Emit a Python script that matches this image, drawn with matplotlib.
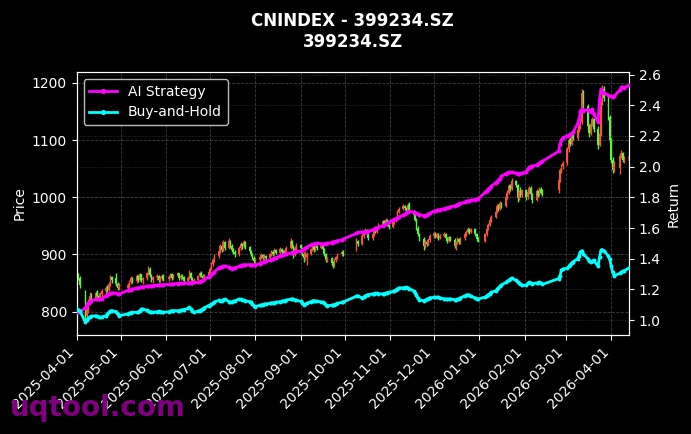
import numpy as np
import pandas as pd
import matplotlib
matplotlib.use("Agg")
import matplotlib.pyplot as plt
import matplotlib.dates as mdates

# -----------------------------
# Data
# -----------------------------
TITLE = "CNINDEX - 399234.SZ\n399234.SZ"

# SZ market holidays inside the window
HOLIDAYS = [
    "2025-04-04", "2025-05-01", "2025-05-02", "2025-05-05", "2025-06-02",
    "2025-10-01", "2025-10-02", "2025-10-03", "2025-10-06", "2025-10-07", "2025-10-08",
    "2026-01-01", "2026-01-02",
    "2026-02-16", "2026-02-17", "2026-02-18", "2026-02-19", "2026-02-20", "2026-02-23",
    "2026-04-06",
]

# one row per month: Apr-25 .. Apr-26
opens = [
    852, 866, 858, 835, 792, 806, 818, 828, 820, 832, 828, 824, 830, 836, 842, 838, 848, 860, 858, 848, 842,
    842, 847, 852, 858, 853, 862, 856, 865, 855, 858, 868, 875, 864, 856, 860, 862, 855, 859, 863,
    857, 861, 865, 859, 862, 867, 858, 863, 860, 854, 859, 868, 858, 850, 855, 862, 868, 863, 858, 862,
    869, 875, 883, 890, 897, 906, 915, 908, 921, 911, 923, 915, 907, 904, 900, 911, 918, 914, 921, 913, 906, 900, 894,
    888, 891, 895, 899, 893, 897, 894, 900, 905, 901, 908, 903, 910, 905, 902, 907, 912, 924, 915, 899, 911,
    917, 911, 901, 893, 895, 901, 909, 914, 908, 915, 911, 916, 910, 900, 890, 893, 885, 880, 890, 895, 900, 905,
    908, 924, 918, 932, 938, 943, 935, 928, 935, 945, 940, 947, 952, 958, 953, 960, 952,
    948, 956, 961, 963, 975, 980, 985, 981, 977, 986, 975, 969, 961, 946, 935, 927, 914, 922, 918, 925,
    932, 937, 931, 935, 929, 933, 936, 929, 923, 930, 926, 914, 921, 927, 921, 928, 935, 940, 945, 939, 944, 936, 927,
    924, 935, 945, 952, 960, 966, 975, 985, 980, 990, 985, 1000, 1008, 1020, 1015, 1028, 1022, 998, 1009, 1004,
    1012, 1000, 1009, 1017, 1005, 996, 1011, 1004, 1015, 1008, 1012, 1030, 1048, 1055,
    1060, 1084, 1100, 1094, 1108, 1104, 1118, 1125, 1131, 1182, 1160, 1125, 1112, 1128, 1136, 1120, 1092, 1110, 1166, 1190, 1174, 1140,
    1100, 1066, 1048, 1052, 1072, 1078, 1065, 1068,
]
highs = [
    870, 868, 862, 838, 812, 822, 834, 832, 836, 838, 832, 834, 840, 845, 846, 852, 864, 862, 868, 852, 850,
    850, 856, 862, 860, 866, 864, 868, 866, 860, 870, 879, 878, 866, 862, 866, 864, 862, 866, 865,
    864, 868, 867, 865, 870, 868, 866, 865, 862, 862, 873, 870, 860, 858, 864, 870, 871, 865, 866, 872,
    878, 886, 893, 900, 910, 918, 917, 926, 923, 929, 925, 918, 912, 908, 914, 922, 920, 925, 923, 915, 908, 903, 897,
    894, 898, 902, 901, 900, 899, 903, 908, 907, 911, 910, 913, 912, 907, 910, 915, 929, 926, 917, 914, 920,
    919, 913, 904, 906, 905, 912, 917, 916, 918, 917, 919, 918, 912, 902, 896, 895, 888, 893, 898, 903, 908, 907,
    928, 926, 935, 941, 946, 945, 937, 938, 948, 947, 950, 955, 961, 960, 963, 962, 954,
    958, 964, 966, 978, 983, 988, 987, 983, 990, 992, 978, 971, 963, 949, 937, 930, 925, 924, 928, 935,
    940, 939, 938, 937, 936, 939, 938, 931, 933, 932, 928, 924, 930, 929, 931, 938, 942, 948, 947, 946, 946, 938, 930,
    938, 947, 955, 962, 969, 978, 988, 988, 993, 992, 1004, 1013, 1024, 1023, 1034, 1031, 1024, 1012, 1018, 1015,
    1014, 1012, 1020, 1019, 1008, 1014, 1013, 1018, 1018, 1014, 1035, 1052, 1058, 1063,
    1088, 1104, 1106, 1112, 1111, 1122, 1129, 1135, 1190, 1188, 1163, 1128, 1132, 1140, 1139, 1124, 1115, 1172, 1197, 1194, 1177, 1143,
    1104, 1070, 1064, 1078, 1082, 1080, 1072, 1075,
]
lows = [
    848, 855, 842, 780, 785, 798, 812, 815, 818, 825, 818, 822, 826, 830, 834, 836, 845, 850, 845, 838, 838,
    835, 842, 848, 850, 850, 852, 854, 852, 848, 856, 864, 860, 852, 850, 856, 852, 852, 856, 854,
    854, 858, 856, 857, 860, 856, 856, 857, 850, 852, 857, 856, 846, 848, 853, 860, 860, 855, 856, 860,
    866, 872, 880, 886, 894, 903, 904, 906, 908, 909, 912, 904, 900, 896, 898, 908, 910, 912, 910, 904, 898, 891, 885,
    884, 888, 892, 890, 890, 890, 892, 898, 898, 899, 900, 901, 902, 898, 900, 905, 910, 912, 893, 897, 908,
    908, 898, 887, 890, 882, 899, 906, 905, 906, 908, 909, 907, 898, 887, 886, 882, 876, 878, 887, 892, 897, 898,
    906, 914, 916, 929, 935, 932, 925, 926, 933, 937, 938, 944, 950, 950, 951, 950, 944,
    946, 953, 957, 961, 972, 977, 978, 974, 975, 972, 966, 958, 943, 932, 924, 908, 912, 915, 916, 922,
    929, 928, 928, 926, 927, 930, 926, 920, 921, 923, 912, 908, 918, 918, 919, 926, 932, 937, 936, 937, 933, 924, 921,
    922, 933, 942, 949, 957, 963, 972, 976, 978, 982, 983, 997, 1005, 1011, 1012, 1018, 992, 995, 1000, 1001,
    996, 997, 1006, 1002, 990, 994, 1000, 1002, 1005, 1002, 1008, 1027, 1042, 1050,
    1057, 1080, 1090, 1091, 1100, 1101, 1114, 1120, 1128, 1155, 1120, 1106, 1109, 1124, 1115, 1084, 1089, 1108, 1162, 1168, 1135, 1095,
    1060, 1042, 1045, 1040, 1068, 1062, 1060, 1064,
]
closes = [
    866, 858, 846, 792, 806, 818, 828, 820, 832, 828, 824, 830, 836, 842, 838, 848, 860, 855, 848, 842, 846,
    847, 852, 858, 853, 862, 856, 865, 855, 858, 868, 875, 864, 856, 860, 862, 855, 859, 863, 857,
    861, 865, 859, 862, 867, 858, 863, 860, 854, 859, 868, 858, 850, 855, 862, 868, 863, 858, 862, 869,
    875, 883, 890, 897, 906, 915, 908, 921, 911, 923, 915, 907, 904, 900, 911, 918, 914, 921, 913, 906, 900, 894, 888,
    891, 895, 899, 893, 897, 894, 900, 905, 901, 908, 903, 910, 905, 902, 907, 912, 924, 915, 899, 911, 917,
    911, 901, 893, 903, 901, 909, 914, 908, 915, 911, 916, 910, 900, 890, 893, 885, 880, 890, 895, 900, 905, 901,
    924, 918, 932, 938, 943, 935, 928, 935, 945, 940, 947, 952, 958, 953, 960, 952, 948,
    956, 961, 963, 975, 980, 985, 981, 977, 986, 975, 969, 961, 946, 935, 927, 914, 922, 918, 925, 932,
    937, 931, 935, 929, 933, 936, 929, 923, 930, 926, 914, 921, 927, 921, 928, 935, 940, 945, 939, 944, 936, 927, 924,
    935, 945, 952, 960, 966, 975, 985, 980, 990, 985, 1000, 1008, 1020, 1015, 1028, 1022, 998, 1009, 1004, 1012,
    1000, 1009, 1017, 1005, 996, 1011, 1004, 1015, 1008, 1006, 1030, 1048, 1055, 1060,
    1084, 1100, 1094, 1108, 1104, 1118, 1125, 1131, 1182, 1160, 1125, 1112, 1128, 1136, 1120, 1092, 1110, 1166, 1190, 1174, 1140, 1100,
    1066, 1048, 1060, 1072, 1078, 1065, 1068, 1070,
]

ai_return = [
    1.050, 1.050, 1.052, 1.080, 1.100, 1.110, 1.120, 1.125, 1.135, 1.137, 1.137, 1.137, 1.137, 1.159, 1.165, 1.170, 1.174, 1.176, 1.176, 1.172, 1.170,
    1.193, 1.196, 1.198, 1.202, 1.208, 1.210, 1.213, 1.215, 1.216, 1.219, 1.220, 1.222, 1.223, 1.224, 1.228, 1.230, 1.230, 1.230, 1.230,
    1.232, 1.233, 1.235, 1.236, 1.238, 1.239, 1.239, 1.239, 1.239, 1.241, 1.243, 1.244, 1.245, 1.245, 1.245, 1.246, 1.252, 1.258, 1.267, 1.280,
    1.288, 1.298, 1.306, 1.315, 1.339, 1.344, 1.347, 1.350, 1.352, 1.345, 1.338, 1.333, 1.336, 1.340, 1.350, 1.355, 1.359, 1.360, 1.360, 1.361, 1.360, 1.360, 1.359,
    1.359, 1.368, 1.372, 1.376, 1.380, 1.384, 1.390, 1.394, 1.398, 1.402, 1.407, 1.418, 1.424, 1.427, 1.429, 1.431, 1.436, 1.440, 1.443, 1.446, 1.447,
    1.447, 1.455, 1.462, 1.468, 1.475, 1.490, 1.493, 1.496, 1.497, 1.499, 1.498, 1.497, 1.496, 1.498, 1.500, 1.505, 1.510, 1.512, 1.514, 1.516, 1.524, 1.528,
    1.565, 1.571, 1.574, 1.575, 1.576, 1.577, 1.578, 1.586, 1.592, 1.597, 1.600, 1.604, 1.614, 1.620, 1.626, 1.632, 1.637,
    1.652, 1.656, 1.661, 1.667, 1.673, 1.684, 1.690, 1.698, 1.706, 1.708, 1.704, 1.700, 1.695, 1.690, 1.687, 1.681, 1.680, 1.684, 1.690, 1.696,
    1.710, 1.713, 1.715, 1.718, 1.720, 1.726, 1.728, 1.731, 1.735, 1.737, 1.744, 1.747, 1.752, 1.757, 1.760, 1.770, 1.774, 1.776, 1.779, 1.781, 1.785, 1.787, 1.789,
    1.833, 1.842, 1.852, 1.862, 1.872, 1.895, 1.902, 1.912, 1.922, 1.938, 1.955, 1.960, 1.962, 1.963, 1.962, 1.958, 1.955, 1.955, 1.956, 1.958,
    1.965, 1.985, 1.995, 2.000, 2.004, 2.010, 2.018, 2.025, 2.030, 2.035, 2.100, 2.150, 2.175, 2.190,
    2.200, 2.204, 2.210, 2.218, 2.225, 2.280, 2.310, 2.360, 2.378, 2.366, 2.372, 2.360, 2.358, 2.376, 2.342, 2.290, 2.440, 2.504, 2.490, 2.480, 2.466, 2.462,
    2.458, 2.457, 2.460, 2.500, 2.520, 2.518, 2.515, 2.530,
]
bh_return = [
    1.072, 1.068, 1.062, 0.984, 1.000, 1.012, 1.020, 1.024, 1.028, 1.024, 1.020, 1.017, 1.020, 1.028, 1.040, 1.050, 1.058, 1.061, 1.055, 1.040, 1.028,
    1.040, 1.045, 1.048, 1.050, 1.050, 1.052, 1.060, 1.070, 1.072, 1.063, 1.058, 1.055, 1.052, 1.050, 1.054, 1.056, 1.055, 1.052, 1.050,
    1.054, 1.058, 1.061, 1.061, 1.061, 1.061, 1.063, 1.066, 1.068, 1.076, 1.082, 1.070, 1.058, 1.050, 1.058, 1.062, 1.066, 1.072, 1.080, 1.094,
    1.098, 1.102, 1.108, 1.118, 1.128, 1.122, 1.124, 1.132, 1.136, 1.120, 1.115, 1.118, 1.121, 1.125, 1.137, 1.134, 1.130, 1.128, 1.126, 1.120, 1.116, 1.105, 1.092,
    1.088, 1.095, 1.098, 1.100, 1.103, 1.105, 1.108, 1.110, 1.112, 1.114, 1.115, 1.120, 1.121, 1.124, 1.127, 1.130, 1.135, 1.137, 1.134, 1.130, 1.128,
    1.122, 1.110, 1.098, 1.102, 1.108, 1.120, 1.124, 1.126, 1.124, 1.122, 1.118, 1.116, 1.112, 1.100, 1.094, 1.096, 1.098, 1.100, 1.104, 1.108, 1.115, 1.118,
    1.155, 1.158, 1.143, 1.150, 1.158, 1.162, 1.165, 1.170, 1.172, 1.174, 1.173, 1.171, 1.170, 1.172, 1.175, 1.178, 1.180,
    1.186, 1.190, 1.196, 1.204, 1.209, 1.210, 1.212, 1.213, 1.210, 1.204, 1.190, 1.178, 1.160, 1.142, 1.130, 1.126, 1.128, 1.134, 1.140, 1.145,
    1.147, 1.148, 1.147, 1.147, 1.144, 1.138, 1.137, 1.136, 1.137, 1.137, 1.133, 1.130, 1.134, 1.140, 1.145, 1.158, 1.162, 1.165, 1.160, 1.154, 1.145, 1.140, 1.137,
    1.150, 1.158, 1.165, 1.172, 1.180, 1.190, 1.200, 1.210, 1.220, 1.228, 1.245, 1.252, 1.258, 1.265, 1.274, 1.258, 1.250, 1.240, 1.232, 1.228,
    1.226, 1.240, 1.245, 1.242, 1.238, 1.240, 1.244, 1.246, 1.240, 1.232, 1.270, 1.290, 1.325, 1.333,
    1.338, 1.350, 1.362, 1.372, 1.380, 1.400, 1.420, 1.445, 1.452, 1.430, 1.400, 1.385, 1.376, 1.382, 1.390, 1.350, 1.410, 1.455, 1.458, 1.452, 1.418, 1.395,
    1.350, 1.310, 1.289, 1.305, 1.315, 1.318, 1.322, 1.339,
]

# -----------------------------
# Trading calendar
# -----------------------------
dates = pd.bdate_range("2025-04-01", "2026-04-13")
dates = dates[~dates.isin(pd.to_datetime(HOLIDAYS))]
x = mdates.date2num(dates.to_pydatetime())

o = np.array(opens, dtype=float)
h = np.array(highs, dtype=float)
l = np.array(lows, dtype=float)
c = np.array(closes, dtype=float)

UP_COLOR = "#f2553d"     # red = up (CN convention)
DOWN_COLOR = "#5cf43c"   # green = down
colors = np.where(c >= o, UP_COLOR, DOWN_COLOR)

# -----------------------------
# Plot
# -----------------------------
fig = plt.figure(figsize=(6.91, 4.34), dpi=100, facecolor="black")
ax = fig.add_axes([0.111, 0.228, 0.799, 0.606])
ax.set_facecolor("black")

# candles
ax.vlines(x, l, h, colors=colors, linewidth=1.0, zorder=2)
ax.bar(x, np.abs(c - o), bottom=np.minimum(o, c), width=1.1,
       color=colors, linewidth=0, zorder=3)

ax.set_xlim(x[0], x[-1])
ax.set_ylim(759, 1219)
ax.set_ylabel("Price", color="white", fontsize=10)

ax.xaxis.set_major_locator(mdates.MonthLocator())
ax.xaxis.set_major_formatter(mdates.DateFormatter("%Y-%m-%d"))
plt.setp(ax.get_xticklabels(), rotation=45, ha="right")

ax.grid(True, color="#666666", linestyle="--", linewidth=0.6, alpha=0.6)

# returns on the right axis
ax2 = ax.twinx()
ax2.plot(x, ai_return, color="#ff00ff", linewidth=2, marker="o", markersize=1.8,
         label="AI Strategy", zorder=4)
ax2.plot(x, bh_return, color="#00ffff", linewidth=2, marker="o", markersize=1.8,
         label="Buy-and-Hold", zorder=4)
ax2.set_ylim(0.902, 2.617)
ax2.set_ylabel("Return", color="white", fontsize=10)
ax2.grid(True, color="#555555", linestyle=":", linewidth=0.6, alpha=0.6)

for a in (ax, ax2):
    a.tick_params(colors="white", labelsize=10)
    for s in a.spines.values():
        s.set_color("white")

leg = ax2.legend(loc="upper left", facecolor="black", edgecolor="#bbbbbb",
                 labelcolor="white", fontsize=10, markerscale=1.5)
leg.get_frame().set_alpha(1)

ax.set_title(TITLE, color="white", fontsize=12, fontweight="bold", pad=18)

# watermark
fig.text(0.0145, 0.041, "uqtool.com", fontsize=20, fontweight="bold",
         color="#800080", zorder=10)

fig.savefig("out.png", dpi=100, facecolor="black")
